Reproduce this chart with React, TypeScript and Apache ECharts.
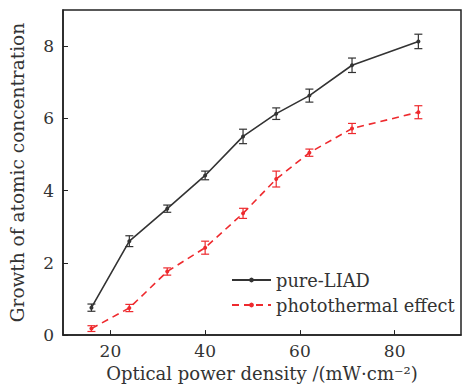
import React, { useEffect, useRef } from "react";
import * as echarts from "echarts";

const xValues = [16, 24, 32, 40, 48, 55, 62, 71, 85];
const liad = [0.76, 2.6, 3.5, 4.42, 5.5, 6.13, 6.63, 7.47, 8.13];
const liadErr = [0.1, 0.15, 0.1, 0.12, 0.2, 0.16, 0.18, 0.2, 0.2];
const photo = [0.18, 0.75, 1.76, 2.42, 3.37, 4.32, 5.05, 5.72, 6.17];
const photoErr = [0.08, 0.1, 0.1, 0.18, 0.14, 0.22, 0.1, 0.14, 0.18];

const FONT = "DejaVu Serif";

function errData(vals: number[], errs: number[]) {
  return xValues.map((x, i) => [x, vals[i] - errs[i], vals[i] + errs[i]]);
}

function errSeries(name: string, vals: number[], errs: number[], color: string) {
  return {
    type: "custom",
    name,
    data: errData(vals, errs),
    z: 3,
    renderItem: (params: any, api: any) => {
      const x = api.value(0);
      const lo = api.coord([x, api.value(1)]);
      const hi = api.coord([x, api.value(2)]);
      const w = 4;
      const style = { stroke: color, lineWidth: 1.2 };
      return {
        type: "group",
        children: [
          { type: "line", shape: { x1: lo[0], y1: lo[1], x2: hi[0], y2: hi[1] }, style },
          { type: "line", shape: { x1: lo[0] - w, y1: lo[1], x2: lo[0] + w, y2: lo[1] }, style },
          { type: "line", shape: { x1: hi[0] - w, y1: hi[1], x2: hi[0] + w, y2: hi[1] }, style },
        ],
      };
    },
  };
}

export default function App() {
  const ref = useRef<HTMLDivElement>(null);
  useEffect(() => {
    const chart = echarts.init(ref.current!, null, { renderer: "svg" });
    const black = "#333333";
    const red = "#ee2a2e";
    chart.setOption({
      animation: false,
      textStyle: { fontFamily: FONT },
      grid: { left: 63, top: 10, right: 1, bottom: 50, show: true, borderColor: "#222", borderWidth: 1.5 },
      xAxis: {
        type: "value",
        min: 10,
        max: 94,
        interval: 20,
        axisLine: { show: true, lineStyle: { color: "#222", width: 1.5 } },
        axisTick: { show: true, inside: true, length: 5, lineStyle: { color: "#222" }, customValues: [20, 40, 60, 80] },
        splitLine: { show: false },
        axisLabel: {
          color: "#333",
          fontSize: 17,
          fontFamily: FONT,
          margin: 7,
          customValues: [20, 40, 60, 80],
        },
        name: "Optical power density /(mW·cm⁻²)",
        nameLocation: "middle",
        nameGap: 27,
        nameTextStyle: { color: "#333", fontSize: 18, fontFamily: FONT },
      },
      yAxis: {
        type: "value",
        min: 0,
        max: 9,
        interval: 2,
        axisLine: { show: true, lineStyle: { color: "#222", width: 1.5 } },
        axisTick: { show: true, inside: true, length: 5, lineStyle: { color: "#222" } },
        splitLine: { show: false },
        axisLabel: { color: "#333", fontSize: 17, fontFamily: FONT, margin: 9, showMaxLabel: false },
        name: "Growth of atomic concentration",
        nameLocation: "middle",
        nameGap: 36,
        nameTextStyle: { color: "#333", fontSize: 18.5, fontFamily: FONT },
      },
      legend: {
        data: ["pure-LIAD", "photothermal effect"],
        orient: "vertical",
        left: 226,
        top: 266,
        itemWidth: 39,
        itemHeight: 6,
        itemGap: 7,
        textStyle: { color: "#333", fontSize: 17.8, fontFamily: FONT },
      },
      series: [
        {
          type: "line",
          name: "pure-LIAD",
          data: xValues.map((x, i) => [x, liad[i]]),
          lineStyle: { color: black, width: 1.6 },
          itemStyle: { color: black },
          symbol: "circle",
          symbolSize: 4,
          z: 4,
        },
        {
          type: "line",
          name: "photothermal effect",
          data: xValues.map((x, i) => [x, photo[i]]),
          lineStyle: { color: red, width: 1.6, type: [7, 5] },
          itemStyle: { color: red },
          symbol: "circle",
          symbolSize: 4,
          z: 4,
        },
        errSeries("liadErr", liad, liadErr, black),
        errSeries("photoErr", photo, photoErr, red),
      ],
    });
    return () => chart.dispose();
  }, []);
  return (
    <div
      ref={ref}
      style={{ position: "absolute", left: 0, top: 0, width: 462, height: 387 }}
    />
  );
}
